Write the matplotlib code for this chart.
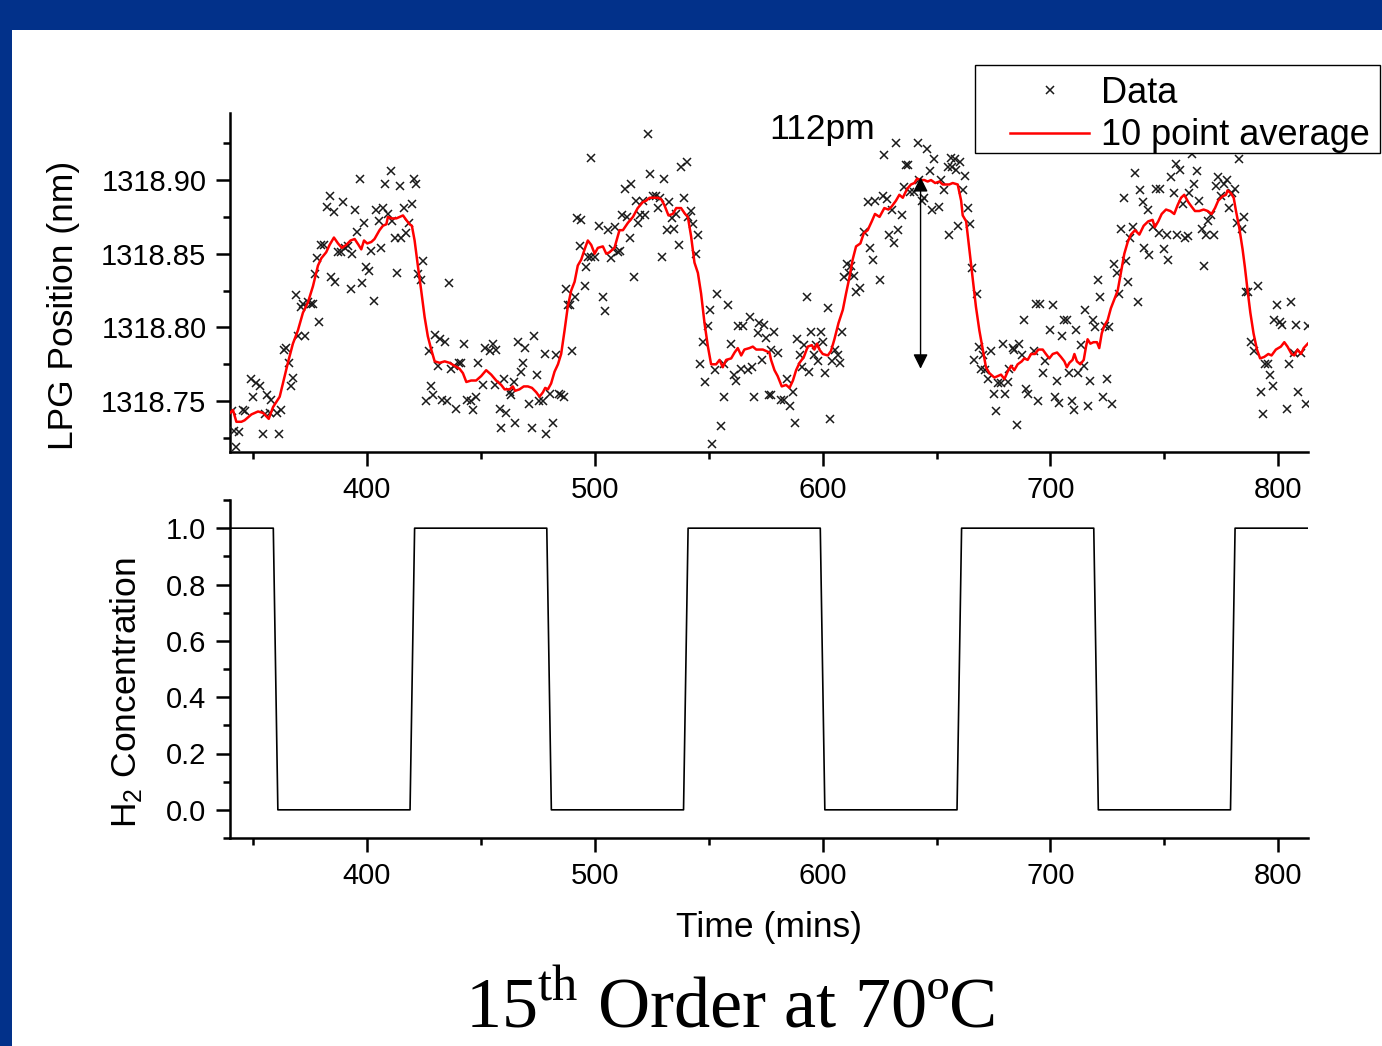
import matplotlib
matplotlib.use("Agg")
import matplotlib.pyplot as plt
from matplotlib.patches import Rectangle
from matplotlib.lines import Line2D
from matplotlib.ticker import MultipleLocator, FormatStrFormatter

# ---------------- data ----------------
data_time = [
    340.9, 341.8, 342.8, 343.8, 345.7, 346.7, 349.4, 350.1, 351.5, 353.3, 354.5, 355.5, 356.4, 357.4, 357.8,
    360.8, 361.5, 362.5, 363.7, 364.7, 365.7, 366.6, 367.8, 369.1, 369.8, 371.0, 372.0, 373.0, 374.2, 375.4,
    376.4, 377.1, 378.3, 379.2, 380.1, 381.2, 382.5, 383.7, 384.4, 385.6, 386.2, 387.4, 388.5, 389.6, 390.6,
    391.8, 392.9, 393.7, 394.7, 395.7, 396.9, 398.0, 398.8, 399.8, 400.8, 402.0, 403.0, 403.9, 405.2, 406.1,
    407.2, 408.1, 409.3, 410.5, 411.3, 412.2, 413.4, 414.6, 415.1, 416.3, 417.3, 418.4,
    420.7, 421.7, 419.8, 424.6, 422.7, 423.9, 436.3, 427.1, 430.1, 432.0, 434.2, 426.1, 428.0, 429.0, 431.2,
    433.0, 435.3, 437.1, 438.5, 440.3, 441.5, 442.5, 439.3, 444.1, 445.8, 446.6, 448.0, 448.8, 451.0, 452.0,
    453.9, 455.4, 456.8, 456.1, 458.3, 459.0, 460.2, 461.2, 462.7, 463.4, 464.6, 465.1, 466.3, 467.8, 468.5,
    469.5, 471.4, 472.6, 473.6, 474.8, 475.8, 477.3, 478.0, 478.7, 480.2, 481.7, 483.1, 484.2, 485.3, 486.5,
    487.5, 488.2, 489.4, 490.0, 491.2, 492.3, 494.1, 493.4, 495.6, 496.4, 497.0,
    498.5, 498.5, 500.2, 523.3, 501.7, 503.6, 504.6, 505.8, 507.0, 508.0, 509.0, 510.2, 511.2, 511.9, 513.1,
    514.1, 515.3, 516.0, 517.2, 518.2, 519.2, 520.1, 521.1, 522.2, 524.4, 525.5, 527.0, 527.7, 528.5, 529.5,
    530.6, 531.8, 532.8, 533.9, 534.7, 535.8, 536.8, 537.9, 539.1, 540.6, 540.9, 542.3, 543.1, 545.3, 544.5,
    547.5, 546.4, 548.2, 549.7, 550.4, 551.4, 552.6, 553.7, 555.5, 556.7, 556.9, 558.7, 559.9, 561.1, 562.1,
    562.8, 564.3, 565.0, 567.2, 568.2, 569.0, 570.1, 571.6, 572.3, 573.3, 574.2, 575.2, 576.7,
    578.6, 577.4, 580.3, 577.4, 581.8, 583.0, 584.4, 585.9, 587.0, 588.0, 588.8, 589.9, 590.9, 591.8, 593.2,
    594.2, 595.0, 596.1, 597.2, 598.2, 599.1, 600.4, 601.1, 602.3, 603.4, 604.2, 605.5, 606.7, 607.8, 608.4,
    609.6, 610.8, 611.8, 612.5, 613.7, 614.7, 616.6, 618.4, 619.8, 621.0, 622.0, 623.0, 625.4, 626.4, 627.1,
    628.3, 629.3, 630.3, 631.2, 632.2, 633.3, 634.7, 635.6, 636.6, 637.4, 638.5, 640.0, 641.8, 642.5, 643.5,
    644.7, 645.8, 647.0, 648.0, 649.1, 651.3, 652.0, 653.2, 654.9, 655.6,
    656.4, 658.1, 660.5, 656.7, 658.6, 662.5, 661.5, 663.7, 659.3, 664.9, 665.4, 667.8, 668.8, 666.6, 670.3,
    669.5, 671.3, 672.7, 673.9, 675.1, 676.1, 677.1, 678.3, 679.0, 680.1, 681.2, 682.0, 683.4, 684.1, 685.3,
    686.3, 687.4, 688.5, 689.3, 690.3, 692.6, 693.7, 694.7, 695.6, 696.6, 697.6, 699.9, 701.0, 702.0, 702.9,
    703.9, 704.9, 706.1, 707.2, 708.3, 709.3, 710.2, 711.2, 712.2, 713.4, 714.6, 715.1, 716.6, 717.5, 718.5,
    719.5, 720.7, 721.9, 722.9, 723.9, 724.8, 725.8, 726.8, 728.0, 729.2, 730.2, 730.9, 732.1, 733.1, 733.9,
    737.1, 739.4, 740.4, 742.6, 736.1, 735.0, 738.2, 741.2, 743.4, 744.8, 746.3, 748.2, 747.7, 749.7, 751.1,
    751.7, 752.9, 754.0, 755.5, 755.1, 756.9, 758.0, 759.0, 760.2, 760.9, 762.1, 763.1, 764.3, 765.3, 766.3,
    767.2, 768.2, 769.2, 770.4, 771.6, 772.6, 773.3, 774.8, 776.3, 777.4, 778.4, 779.5, 780.9, 781.8, 782.8,
    783.9, 784.7, 785.8, 786.8, 788.0, 789.4, 791.2, 792.3, 793.1, 794.1, 795.3, 796.4, 797.5, 798.2, 799.4,
    800.8, 801.8, 803.8, 804.8, 805.5, 806.7, 807.7, 808.7, 809.9, 812.1, 812.8,
]
data_lpg = [
    1318.743, 1318.730, 1318.719, 1318.729, 1318.744, 1318.743, 1318.765, 1318.753, 1318.762, 1318.760, 1318.728, 1318.741, 1318.754, 1318.742, 1318.751,
    1318.742, 1318.728, 1318.744, 1318.785, 1318.786, 1318.776, 1318.760, 1318.766, 1318.822, 1318.794, 1318.814, 1318.816, 1318.794, 1318.817, 1318.816,
    1318.816, 1318.836, 1318.847, 1318.804, 1318.856, 1318.856, 1318.882, 1318.889, 1318.834, 1318.878, 1318.831, 1318.851, 1318.851, 1318.885, 1318.854,
    1318.855, 1318.826, 1318.850, 1318.880, 1318.865, 1318.901, 1318.830, 1318.871, 1318.841, 1318.838, 1318.852, 1318.818, 1318.880, 1318.872, 1318.854,
    1318.881, 1318.897, 1318.877, 1318.906, 1318.872, 1318.861, 1318.837, 1318.896, 1318.861, 1318.881, 1318.864, 1318.871,
    1318.901, 1318.897, 1318.884, 1318.845, 1318.836, 1318.832, 1318.830, 1318.784, 1318.795, 1318.792, 1318.790, 1318.750, 1318.760, 1318.754, 1318.774,
    1318.751, 1318.750, 1318.772, 1318.774, 1318.776, 1318.776, 1318.789, 1318.745, 1318.751, 1318.750, 1318.744, 1318.753, 1318.776, 1318.761, 1318.786,
    1318.784, 1318.789, 1318.785, 1318.761, 1318.745, 1318.732, 1318.765, 1318.742, 1318.756, 1318.754, 1318.763, 1318.735, 1318.790, 1318.770, 1318.776,
    1318.786, 1318.748, 1318.732, 1318.794, 1318.768, 1318.750, 1318.750, 1318.782, 1318.728, 1318.755, 1318.735, 1318.781, 1318.755, 1318.754, 1318.753,
    1318.826, 1318.815, 1318.815, 1318.784, 1318.821, 1318.874, 1318.873, 1318.855, 1318.828, 1318.841, 1318.848,
    1318.915, 1318.848, 1318.848, 1318.931, 1318.869, 1318.821, 1318.811, 1318.866, 1318.847, 1318.853, 1318.868, 1318.851, 1318.852, 1318.876, 1318.894,
    1318.875, 1318.861, 1318.897, 1318.834, 1318.886, 1318.871, 1318.876, 1318.886, 1318.876, 1318.904, 1318.889, 1318.889, 1318.881, 1318.888, 1318.848,
    1318.901, 1318.866, 1318.885, 1318.874, 1318.867, 1318.877, 1318.856, 1318.909, 1318.888, 1318.912, 1318.875, 1318.879, 1318.870, 1318.863, 1318.850,
    1318.790, 1318.775, 1318.763, 1318.801, 1318.812, 1318.721, 1318.771, 1318.823, 1318.733, 1318.753, 1318.775, 1318.815, 1318.789, 1318.768, 1318.764,
    1318.801, 1318.772, 1318.801, 1318.771, 1318.807, 1318.773, 1318.753, 1318.796, 1318.803, 1318.778, 1318.802, 1318.793, 1318.754,
    1318.797, 1318.785, 1318.783, 1318.754, 1318.751, 1318.751, 1318.765, 1318.747, 1318.756, 1318.735, 1318.792, 1318.781, 1318.773, 1318.788, 1318.821,
    1318.770, 1318.797, 1318.781, 1318.788, 1318.777, 1318.797, 1318.790, 1318.769, 1318.813, 1318.738, 1318.777, 1318.785, 1318.781, 1318.776, 1318.797,
    1318.834, 1318.843, 1318.837, 1318.842, 1318.835, 1318.824, 1318.827, 1318.865, 1318.885, 1318.854, 1318.846, 1318.886, 1318.832, 1318.889, 1318.917,
    1318.887, 1318.863, 1318.880, 1318.857, 1318.925, 1318.866, 1318.876, 1318.895, 1318.910, 1318.910, 1318.892, 1318.892, 1318.925, 1318.900, 1318.886,
    1318.888, 1318.921, 1318.906, 1318.880, 1318.914, 1318.882, 1318.900, 1318.893, 1318.909, 1318.863,
    1318.915, 1318.914, 1318.912, 1318.909, 1318.907, 1318.903, 1318.893, 1318.881, 1318.869, 1318.870, 1318.840, 1318.823, 1318.787, 1318.778, 1318.781,
    1318.772, 1318.771, 1318.765, 1318.784, 1318.755, 1318.743, 1318.762, 1318.762, 1318.789, 1318.755, 1318.763, 1318.772, 1318.786, 1318.785, 1318.734,
    1318.789, 1318.781, 1318.805, 1318.758, 1318.755, 1318.784, 1318.816, 1318.750, 1318.816, 1318.769, 1318.777, 1318.798, 1318.815, 1318.753, 1318.764,
    1318.749, 1318.794, 1318.805, 1318.805, 1318.769, 1318.750, 1318.744, 1318.798, 1318.769, 1318.788, 1318.774, 1318.812, 1318.747, 1318.764, 1318.805,
    1318.800, 1318.832, 1318.821, 1318.753, 1318.801, 1318.765, 1318.800, 1318.748, 1318.843, 1318.837, 1318.823, 1318.867, 1318.888, 1318.845, 1318.831,
    1318.905, 1318.893, 1318.885, 1318.880, 1318.868, 1318.861, 1318.817, 1318.854, 1318.849, 1318.868, 1318.894, 1318.894, 1318.864, 1318.853, 1318.863,
    1318.846, 1318.902, 1318.891, 1318.863, 1318.911, 1318.907, 1318.884, 1318.861, 1318.862, 1318.891, 1318.918, 1318.897, 1318.906, 1318.886, 1318.867,
    1318.842, 1318.863, 1318.872, 1318.876, 1318.863, 1318.896, 1318.902, 1318.889, 1318.897, 1318.900, 1318.881, 1318.891, 1318.894, 1318.871, 1318.914,
    1318.867, 1318.875, 1318.824, 1318.824, 1318.790, 1318.784, 1318.828, 1318.756, 1318.741, 1318.775, 1318.775, 1318.768, 1318.760, 1318.805, 1318.815,
    1318.804, 1318.802, 1318.745, 1318.775, 1318.817, 1318.783, 1318.802, 1318.756, 1318.783, 1318.748, 1318.801,
]

avg_time = [
    340.0, 341.3, 342.8, 345.0, 346.4, 349.4, 352.3, 354.5, 357.0, 358.9, 361.8, 363.2, 365.4, 367.6, 369.8,
    372.0, 374.2, 376.4, 378.6, 380.1, 382.2, 383.7, 385.6, 387.4, 389.1, 391.0, 392.9, 394.7, 396.4, 397.6,
    398.8, 400.2, 402.0, 403.4, 405.6, 407.1, 408.6, 409.3, 410.8, 413.0, 414.4, 415.9, 417.3, 418.8, 419.8,
    421.0, 422.5, 423.9, 425.4, 426.8, 428.3, 429.8, 432.0, 434.2, 436.3, 438.5, 440.7, 442.2, 443.7, 445.8,
    448.0, 450.2, 452.4, 454.6, 456.8, 459.0, 460.5, 462.7, 464.1, 465.1, 467.0, 468.9, 470.7, 472.5, 474.4,
    475.8, 477.3, 478.3, 479.5, 480.9, 482.4, 483.9, 485.3, 486.8, 488.2, 489.7, 491.2, 492.6, 494.1, 495.6,
    497.0, 498.5, 500.0, 501.4, 503.6, 505.1, 506.5, 508.7, 510.9, 512.4, 514.6, 516.8, 518.9, 521.1, 522.6,
    524.1, 525.5, 527.7, 529.2, 530.6, 532.4, 534.3, 535.8, 537.9, 539.7, 540.9, 542.3, 543.8, 545.3, 546.7,
    548.2, 549.7, 551.1, 553.3, 554.8, 556.2, 557.7, 559.9, 561.4, 562.8, 564.3, 565.7, 567.9, 569.4, 570.9,
    572.3, 573.8, 575.2, 576.7, 577.4, 578.9, 580.3, 582.1, 584.0, 585.5, 587.0, 588.4, 589.9, 591.8, 593.5,
    595.3, 596.4, 597.6, 598.6, 600.1, 602.3, 603.7, 605.2, 607.0, 608.9, 610.3, 611.8, 613.2, 614.7, 616.6,
    618.1, 619.8, 621.6, 623.0, 625.0, 627.1, 628.9, 630.3, 632.2, 633.7, 635.2, 637.1, 638.8, 640.3, 641.5,
    643.0, 644.7, 646.1, 647.6, 649.4, 651.3, 652.7, 654.2, 655.6, 657.1, 659.3, 660.8, 661.5, 663.0, 664.4,
    665.9, 667.3, 668.8, 670.3, 671.7, 673.2, 675.4, 676.8, 678.3, 679.8, 681.2, 682.7, 684.1, 685.6, 687.4,
    688.5, 690.0, 691.5, 693.2, 694.7, 696.6, 698.0, 699.5, 701.0, 702.9, 704.6, 706.1, 707.2, 708.3, 709.7,
    710.5, 711.6, 713.1, 714.6, 715.6, 716.3, 717.5, 718.9, 720.4, 721.4, 722.5, 723.6, 725.1, 726.5, 728.0,
    729.5, 730.9, 732.4, 733.9, 735.3, 737.1, 739.0, 740.9, 742.9, 744.8, 745.8, 747.3, 748.8, 750.7, 752.6,
    754.3, 755.8, 757.3, 758.7, 760.5, 761.9, 763.4, 765.3, 767.2, 769.0, 770.7, 772.2, 773.6, 775.5, 777.0,
    777.7, 779.2, 780.4, 781.4, 782.8, 784.3, 785.3, 786.5, 787.7, 789.1, 790.6, 792.0, 793.8, 795.6, 797.0,
    798.9, 801.1, 802.6, 804.0, 805.8, 807.0, 808.4, 809.9, 811.1, 812.9,
]
avg_lpg = [
    1318.742, 1318.744, 1318.736, 1318.736, 1318.737, 1318.741, 1318.743, 1318.742, 1318.738, 1318.746, 1318.753, 1318.762, 1318.776, 1318.789, 1318.798,
    1318.810, 1318.817, 1318.828, 1318.842, 1318.847, 1318.851, 1318.856, 1318.861, 1318.857, 1318.854, 1318.856, 1318.859, 1318.860, 1318.856, 1318.853,
    1318.859, 1318.857, 1318.858, 1318.860, 1318.866, 1318.869, 1318.870, 1318.875, 1318.874, 1318.874, 1318.875, 1318.876, 1318.873, 1318.870, 1318.869,
    1318.859, 1318.841, 1318.825, 1318.807, 1318.794, 1318.785, 1318.777, 1318.776, 1318.777, 1318.776, 1318.774, 1318.772, 1318.769, 1318.763, 1318.764,
    1318.764, 1318.767, 1318.771, 1318.768, 1318.764, 1318.761, 1318.758, 1318.758, 1318.760, 1318.757, 1318.758, 1318.760, 1318.760, 1318.759, 1318.756,
    1318.753, 1318.756, 1318.759, 1318.758, 1318.762, 1318.770, 1318.775, 1318.782, 1318.798, 1318.814, 1318.825, 1318.831, 1318.842, 1318.846, 1318.853,
    1318.859, 1318.856, 1318.850, 1318.854, 1318.855, 1318.850, 1318.851, 1318.854, 1318.866, 1318.866, 1318.871, 1318.875, 1318.881, 1318.885, 1318.886,
    1318.888, 1318.888, 1318.888, 1318.887, 1318.883, 1318.876, 1318.877, 1318.881, 1318.881, 1318.877, 1318.875, 1318.862, 1318.844, 1318.837, 1318.823,
    1318.803, 1318.787, 1318.775, 1318.775, 1318.778, 1318.773, 1318.778, 1318.779, 1318.783, 1318.786, 1318.781, 1318.785, 1318.786, 1318.787, 1318.785,
    1318.785, 1318.785, 1318.784, 1318.783, 1318.778, 1318.771, 1318.767, 1318.760, 1318.761, 1318.759, 1318.764, 1318.771, 1318.776, 1318.780, 1318.787,
    1318.788, 1318.785, 1318.789, 1318.785, 1318.782, 1318.781, 1318.784, 1318.792, 1318.803, 1318.812, 1318.823, 1318.834, 1318.846, 1318.855, 1318.857,
    1318.864, 1318.866, 1318.872, 1318.877, 1318.875, 1318.881, 1318.880, 1318.882, 1318.886, 1318.890, 1318.888, 1318.894, 1318.897, 1318.898, 1318.901,
    1318.900, 1318.900, 1318.899, 1318.900, 1318.898, 1318.899, 1318.897, 1318.897, 1318.897, 1318.898, 1318.897, 1318.886, 1318.876, 1318.872, 1318.853,
    1318.832, 1318.814, 1318.798, 1318.785, 1318.773, 1318.769, 1318.766, 1318.767, 1318.768, 1318.765, 1318.770, 1318.774, 1318.771, 1318.775, 1318.777,
    1318.779, 1318.778, 1318.782, 1318.782, 1318.785, 1318.785, 1318.782, 1318.779, 1318.782, 1318.783, 1318.780, 1318.777, 1318.773, 1318.776, 1318.778,
    1318.782, 1318.777, 1318.775, 1318.778, 1318.787, 1318.792, 1318.789, 1318.790, 1318.790, 1318.786, 1318.796, 1318.801, 1318.805, 1318.813, 1318.819,
    1318.825, 1318.837, 1318.850, 1318.858, 1318.863, 1318.866, 1318.863, 1318.869, 1318.872, 1318.873, 1318.868, 1318.872, 1318.877, 1318.880, 1318.879,
    1318.877, 1318.883, 1318.888, 1318.890, 1318.885, 1318.882, 1318.879, 1318.879, 1318.880, 1318.879, 1318.877, 1318.881, 1318.886, 1318.889, 1318.890,
    1318.893, 1318.891, 1318.888, 1318.879, 1318.868, 1318.853, 1318.841, 1318.825, 1318.810, 1318.796, 1318.785, 1318.779, 1318.780, 1318.782, 1318.781,
    1318.785, 1318.787, 1318.790, 1318.787, 1318.782, 1318.781, 1318.785, 1318.782, 1318.786, 1318.789,
]

h2_time = [340, 359, 361, 419, 421, 479, 481, 539, 541, 599, 601, 659, 661, 719, 721, 779, 781, 813]
h2_conc = [1.0, 1.0, 0.0, 0.0, 1.0, 1.0, 0.0, 0.0, 1.0, 1.0, 0.0, 0.0, 1.0, 1.0, 0.0, 0.0, 1.0, 1.0]

x_ticks = [400, 500, 600, 700, 800]
lpg_ticks = [1318.75, 1318.80, 1318.85, 1318.90]
h2_ticks = [0.0, 0.2, 0.4, 0.6, 0.8, 1.0]

arrow_time = 643.0
arrow_range = (1318.772, 1318.902)
arrow_label = "112pm"

# ---------------- style ----------------
plt.rcParams['font.family'] = ['Liberation Sans', 'DejaVu Sans']
plt.rcParams['mathtext.fontset'] = 'custom'
plt.rcParams['mathtext.rm'] = 'Liberation Sans'

W, H = 1382, 1046
fig = plt.figure(figsize=(W / 100, H / 100), dpi=100)
fig.patch.set_facecolor('#02318a')
fig.patches.append(Rectangle((12 / W, 0), 1 - 12 / W, 1 - 30 / H, transform=fig.transFigure,
                             facecolor='white', edgecolor='none', zorder=-5))

ax1 = fig.add_axes([230 / W, 1 - 452 / H, 1078 / W, 339 / H])
ax2 = fig.add_axes([230 / W, 1 - 838 / H, 1078 / W, 338 / H])

TICK_FS = 21
LABEL_FS = 25.5

for ax in (ax1, ax2):
    ax.set_facecolor('none')
    ax.set_zorder(1)
    for s in ('top', 'right'):
        ax.spines[s].set_visible(False)
    for s in ('left', 'bottom'):
        ax.spines[s].set_linewidth(1.8)
    ax.tick_params(which='major', direction='out', length=10, width=1.8, labelsize=TICK_FS, pad=7)
    ax.tick_params(which='minor', direction='out', length=5, width=1.8)
    ax.set_xlim(340, 813)
    ax.set_xticks(x_ticks)
    ax.xaxis.set_minor_locator(MultipleLocator(50))

# --- top panel ---
ax1.plot(data_time, data_lpg, linestyle='none', marker='x', markersize=5.5, markeredgewidth=1.1,
         color='#1a1a1a', label='Data', zorder=3)
ax1.plot(avg_time, avg_lpg, color='#ff0000', linewidth=1.8, label='10 point average', zorder=4)
ax1.set_ylim(1318.7155, 1318.9455)
ax1.set_yticks(lpg_ticks)
ax1.yaxis.set_minor_locator(MultipleLocator(0.025))
ax1.yaxis.set_major_formatter(FormatStrFormatter('%.2f'))
ax1.set_ylabel('LPG Position (nm)', fontsize=LABEL_FS, va='center', ha='center')
ax1.yaxis.set_label_coords((63 - 230) / 1078, (452 - 305) / 339)

ax1.annotate('', xy=(arrow_time, arrow_range[1]), xytext=(arrow_time, arrow_range[0]),
             arrowprops=dict(arrowstyle='<|-|>', color='black', lw=1.0, mutation_scale=22,
                             shrinkA=0, shrinkB=0), zorder=5)
ax1.text(600, 1318.934, arrow_label, fontsize=LABEL_FS, ha='center', va='center', clip_on=False)

# legend: box drawn explicitly, entries from a frameless legend
fig.patches.append(Rectangle((975 / W, 1 - 153 / H), 405 / W, 88 / H, transform=fig.transFigure,
                             facecolor='white', edgecolor='black', linewidth=1.0, zorder=8))
handles = [Line2D([], [], linestyle='none', marker='x', markersize=5.5, markeredgewidth=1.1, color='#1a1a1a'),
           Line2D([], [], color='#ff0000', linewidth=1.8)]
leg = fig.legend(handles, ['Data', '10 point average'], loc='upper left',
                 bbox_to_anchor=(1010 / W, 1 - 76 / H), bbox_transform=fig.transFigure,
                 fontsize=26, frameon=False, borderpad=0, labelspacing=0.2, handlelength=2.2,
                 handletextpad=0.33, borderaxespad=0)
leg.set_zorder(10)

# --- bottom panel ---
ax2.plot(h2_time, h2_conc, color='black', linewidth=1.2)
ax2.set_ylim(-0.1, 1.1)
ax2.set_yticks(h2_ticks)
ax2.yaxis.set_minor_locator(MultipleLocator(0.1))
ax2.yaxis.set_major_formatter(FormatStrFormatter('%.1f'))
ax2.set_ylabel(r'H$_{\mathregular{2}}$ Concentration', fontsize=LABEL_FS, va='center', ha='center')
ax2.yaxis.set_label_coords((126 - 230) / 1078, (838 - 693) / 338)
ax2.set_xlabel('Time (mins)', fontsize=LABEL_FS, va='center', ha='center')
ax2.xaxis.set_label_coords(0.5, (838 - 927) / 338)

fig.text(730 / W, 1 - 1009 / H, r'15$^{\mathregular{th}}$ Order at 70ºC', fontsize=52,
         family='Liberation Serif', ha='center', va='center')

fig.savefig('out.png', dpi=100, facecolor=fig.get_facecolor())
